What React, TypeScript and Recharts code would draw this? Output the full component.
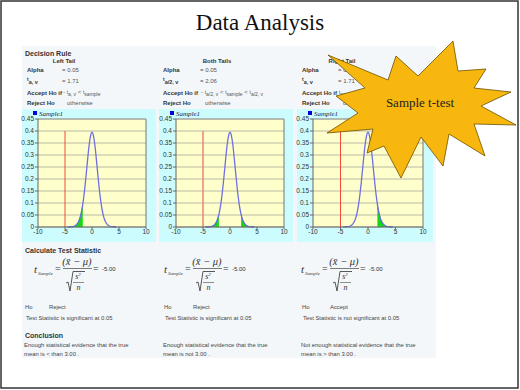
import React from "react";
import {
  ComposedChart,
  Area,
  Line,
  XAxis,
  YAxis,
  CartesianGrid,
  ReferenceLine,
} from "recharts";

// values (same curve in each panel)
const tValues = [
  -4.5, -4, -3.5, -3, -2.75, -2.5, -2.25, -2.06, -2, -1.75, -1.71, -1.5, -1.25,
  -1, -0.75, -0.5, -0.25, 0, 0.25, 0.5, 0.75, 1, 1.25, 1.5, 1.71, 1.75, 2,
  2.06, 2.25, 2.5, 2.75, 3, 3.5, 4, 4.5,
];
const density = [
  0.0, 0.001, 0.002, 0.007, 0.013, 0.022, 0.036, 0.052, 0.058, 0.088, 0.094,
  0.129, 0.18, 0.237, 0.296, 0.347, 0.382, 0.395, 0.382, 0.347, 0.296, 0.237,
  0.18, 0.129, 0.094, 0.088, 0.058, 0.052, 0.036, 0.022, 0.013, 0.007, 0.002,
  0.001, 0.0,
];

const testNames = ["Left Tail", "Both Tails", "Right Tail"];
const tailKinds = ["left", "both", "right"];
const criticalValues = [1.71, 2.06, 1.71];
const alphaValues = [0.05, 0.05, 0.05];
const tSample = -5.0;
const tSampleTop = 0.4;
const hoResults = ["Reject", "Reject", "Accept"];
const significance = [
  "Test Statistic is significant at 0.05",
  "Test Statistic is significant at 0.05",
  "Test Statistic is not significant at 0.05",
];
const conclusions = [
  ["Enough statistical evidence that the true", "mean is < than 3.00 ."],
  ["Enough statistical evidence that the true", "mean is not 3.00 ."],
  ["Not enough statistical evidence that the true", "mean is > than 3.00 ."],
];

const xTicks = [-10, -5, 0, 5, 10];
const yTicks = [0, 0.05, 0.1, 0.15, 0.2, 0.25, 0.3, 0.35, 0.4, 0.45];

const SANS = "'Liberation Sans', Arial, sans-serif";
const SERIF = "'Liberation Serif', 'Times New Roman', serif";

// panel geometry
const plotLefts = [38, 176, 313];
const plotWidths = [108, 108, 110];
const panelXs = [22, 159, 297];
const panelWs = [134, 134, 136];
const labelXs = [27, 163, 302];
const valueXs = [62, 200, 338];
const headerXs = [64, 217, 342];
const formulaXs = [34, 164, 301];
const hoXs = [25, 164, 302];
const resultXs = [49, 193, 330];

function inTail(kind: string, x: number, crit: number) {
  if (kind === "left") return x <= -crit;
  if (kind === "right") return x >= crit;
  return x <= -crit || x >= crit;
}

const axisTick = { fontSize: 6.5, fill: "#333", fontFamily: SANS };

function TChart({ idx }: { idx: number }) {
  const crit = criticalValues[idx];
  const rows = tValues.map((x, i) => ({
    x,
    density: density[i],
    tail: inTail(tailKinds[idx], x, crit) ? density[i] : null,
  }));
  const yW = 24;
  return (
    <div style={{ position: "absolute", left: plotLefts[idx] - yW, top: 115 }}>
      <ComposedChart
        width={yW + plotWidths[idx] + 4}
        height={124}
        data={rows}
        margin={{ top: 4, right: 4, bottom: 0, left: 0 }}
      >
        <CartesianGrid vertical={false} fill="#ffffcc" stroke="#b9b9a6" />
        <XAxis
          type="number"
          dataKey="x"
          domain={[-10, 10]}
          ticks={xTicks}
          height={12}
          tick={axisTick}
          tickSize={2}
          tickMargin={0}
          stroke="#666"
          interval={0}
        />
        <YAxis
          type="number"
          domain={[0, 0.45]}
          ticks={yTicks}
          width={yW}
          tick={axisTick}
          tickSize={3}
          tickMargin={1}
          stroke="#666"
          interval={0}
        />
        <ReferenceLine x={10} stroke="#777" />
        <ReferenceLine y={0.45} stroke="#999" />
        <Area
          dataKey="tail"
          type="monotone"
          fill="#14d814"
          fillOpacity={1}
          stroke="#0a7a0a"
          strokeWidth={0.5}
          connectNulls={false}
          dot={false}
          activeDot={false}
          isAnimationActive={false}
        />
        <Line
          dataKey="density"
          type="monotone"
          stroke="#6f6fe4"
          strokeWidth={1.3}
          dot={false}
          activeDot={false}
          isAnimationActive={false}
        />
        <ReferenceLine
          segment={[
            { x: tSample, y: 0 },
            { x: tSample, y: tSampleTop },
          ]}
          stroke={idx === 1 ? "#f08a7a" : "#f04a3a"}
          strokeWidth={idx === 1 ? 1.6 : 1}
        />
      </ComposedChart>
    </div>
  );
}

function Sub({ t, sub }: { t: string; sub: string }) {
  return (
    <>
      <tspan fontSize={5}>{t}</tspan>
      <tspan dy={2} fontSize={5}>
        {sub}
      </tspan>
      <tspan dy={-2}> </tspan>
    </>
  );
}

function DecisionColumn({ idx }: { idx: number }) {
  const lx = labelXs[idx];
  const vx = valueXs[idx];
  const sub = tailKinds[idx] === "both" ? "a/2, v" : "a, v";
  let accept: React.ReactNode;
  if (tailKinds[idx] === "left") {
    accept = (
      <>
        {"- "}
        <Sub t="t" sub={sub} />
        {"< "}
        <Sub t="t" sub="sample" />
      </>
    );
  } else if (tailKinds[idx] === "both") {
    accept = (
      <>
        {"- "}
        <Sub t="t" sub={sub} />
        {"< "}
        <Sub t="t" sub="sample" />
        {"< "}
        <Sub t="t" sub={sub} />
      </>
    );
  } else {
    accept = (
      <>
        <Sub t="t" sub="sample" />
        {"< "}
        <Sub t="t" sub={sub} />
      </>
    );
  }
  return (
    <g fontFamily={SANS} fontSize={6}>
      <text x={headerXs[idx]} y={63} textAnchor="middle" fontWeight="bold" fill="#333">
        {testNames[idx]}
      </text>
      <text x={lx} y={72} fontWeight="bold" fill="#333">Alpha</text>
      <text x={vx} y={72} fill="#555">= {alphaValues[idx].toFixed(2)}</text>
      <text x={lx} y={81} fontWeight="bold" fill="#333">
        <tspan fontSize={5}>t</tspan>
        <tspan dy={2.5} fontSize={5.5}>{sub}</tspan>
      </text>
      <text x={vx} y={83} fill="#555">= {criticalValues[idx].toFixed(2)}</text>
      <text x={lx} y={95} fontWeight="bold" fill="#333">Accept Ho if</text>
      <text x={vx + 1} y={94} fill="#555">{accept}</text>
      <text x={lx} y={105} fontWeight="bold" fill="#333">Reject Ho</text>
      <text x={vx + 5} y={105} fill="#555">otherwise</text>
      <rect x={panelXs[idx] + 11} y={111} width={4} height={4} fill="#0000dd" />
      <text x={panelXs[idx] + 17} y={115.5} fontFamily={SERIF} fontStyle="italic" fontSize={7} fill="#224">
        Sample1
      </text>
    </g>
  );
}

function Formula({ x }: { x: number }) {
  return (
    <g fill="#333" stroke="none">
      <text x={x} y={273} fontFamily={SERIF} fontStyle="italic" fontSize={11}>t</text>
      <text x={x + 4} y={275} fontFamily={SERIF} fontStyle="italic" fontSize={5}>Sample</text>
      <text x={x + 21} y={272} fontFamily={SERIF} fontSize={10}>=</text>
      <text x={x + 43} y={265} fontFamily={SERIF} fontStyle="italic" fontSize={10.5} textAnchor="middle">
        {"(x\u0304 \u2212 \u03bc)"}
      </text>
      <line x1={x + 29} x2={x + 58} y1={268.5} y2={268.5} stroke="#444" strokeWidth={0.7} />
      <polyline
        points={`${x + 32},${283} ${x + 34},${282} ${x + 36},${291} ${x + 39},${271.5} ${x + 51},${271.5}`}
        fill="none"
        stroke="#444"
        strokeWidth={0.9}
      />
      <text x={x + 44} y={279} fontFamily={SERIF} fontStyle="italic" fontSize={8} textAnchor="middle">
        s<tspan dy={-3} fontSize={5}>2</tspan>
      </text>
      <line x1={x + 39} x2={x + 50} y1={282.5} y2={282.5} stroke="#444" strokeWidth={0.6} />
      <text x={x + 44.5} y={290} fontFamily={SERIF} fontStyle="italic" fontSize={8} textAnchor="middle">n</text>
      <text x={x + 59} y={272} fontFamily={SERIF} fontSize={10}>=</text>
      <text x={x + 68} y={271} fontFamily={SANS} fontSize={6}>{tSample.toFixed(2)}</text>
    </g>
  );
}

const starPoints = [
  [328, 55], [388, 80], [396, 56], [418, 76], [453, 41], [458, 71],
  [486, 69], [474, 88], [511, 92], [481, 106], [516, 125], [474, 124],
  [485, 156], [449, 134], [443, 166], [421, 137], [401, 178], [384, 146],
  [367, 153], [373, 129], [327, 133], [358, 113], [336, 96], [365, 88],
];

export default function App() {
  return (
    <div
      style={{
        position: "absolute",
        left: 0,
        top: 0,
        width: 520,
        height: 390,
        background: "#fff",
        overflow: "hidden",
      }}
    >
      <svg width={520} height={390} style={{ position: "absolute", left: 0, top: 0 }}>
        <rect x={1} y={1} width={517} height={387} fill="#fff" stroke="#333" strokeWidth={1.5} />
        <rect x={22} y={46} width={414} height={312} fill="#f4f7f9" />
        {panelXs.map((px, i) => (
          <rect key={i} x={px} y={109} width={panelWs[i]} height={133} fill="#ccfcfd" />
        ))}
      </svg>

      {[0, 1, 2].map((i) => (
        <TChart key={i} idx={i} />
      ))}

      <svg width={520} height={390} style={{ position: "absolute", left: 0, top: 0 }}>
        <text x={260} y={30} textAnchor="middle" fontFamily={SERIF} fontSize={23} fill="#111">
          Data Analysis
        </text>
        <text x={25} y={55.5} fontFamily={SANS} fontSize={7} fontWeight="bold" fill="#333">
          Decision Rule
        </text>
        {[0, 1, 2].map((i) => (
          <DecisionColumn key={i} idx={i} />
        ))}

        <text x={25} y={253} fontFamily={SANS} fontSize={7} fontWeight="bold" fill="#333">
          Calculate Test Statistic
        </text>
        {[0, 1, 2].map((i) => (
          <g key={i}>
            <Formula x={formulaXs[i]} />
            <g fontFamily={SANS} fontSize={5.9} fill="#444">
              <text x={hoXs[i]} y={309}>Ho</text>
              <text x={resultXs[i]} y={309}>{hoResults[i]}</text>
              <text x={hoXs[i] + 1} y={320}>{significance[i]}</text>
              <text x={hoXs[i] - 1} y={347}>{conclusions[i][0]}</text>
              <text x={hoXs[i] - 1} y={355.5}>{conclusions[i][1]}</text>
            </g>
          </g>
        ))}
        <text x={25} y={338} fontFamily={SANS} fontSize={7} fontWeight="bold" fill="#333">
          Conclusion
        </text>

        <polygon
          points={starPoints.map((p) => p.join(",")).join(" ")}
          fill="#f8b70e"
          stroke="#6b5200"
          strokeWidth={0.8}
          strokeLinejoin="miter"
        />
        <text x={420} y={107} textAnchor="middle" fontFamily={SERIF} fontSize={13} fill="#222">
          Sample t-test
        </text>
      </svg>
    </div>
  );
}
